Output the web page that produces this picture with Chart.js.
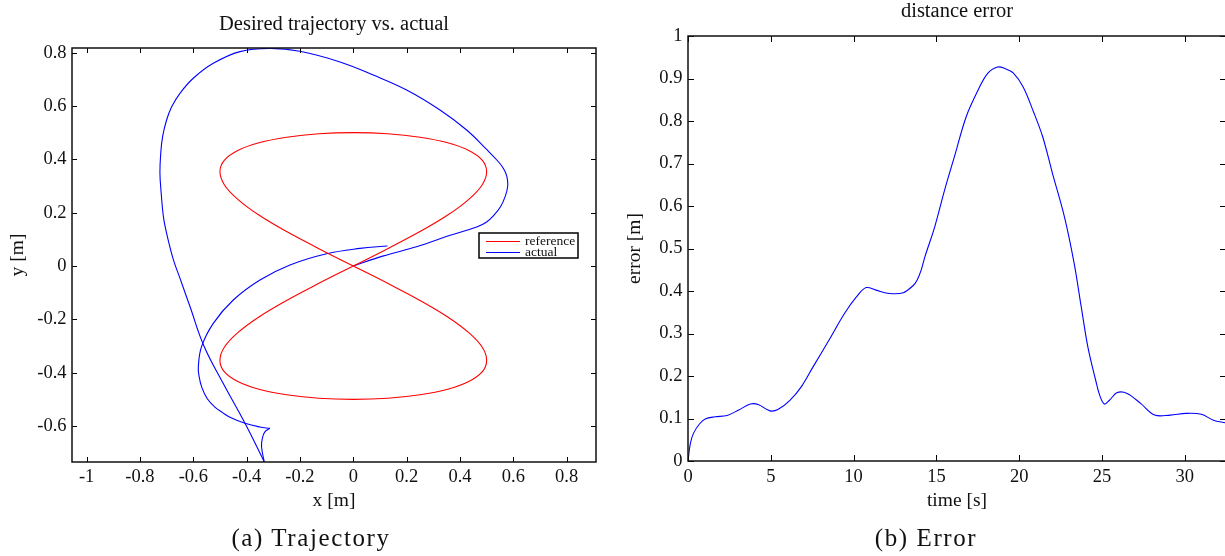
<!DOCTYPE html>
<html><head><meta charset="utf-8">
<script src="https://cdn.jsdelivr.net/npm/chart.js@4.4.1/dist/chart.umd.min.js"></script>
<style>
html,body{margin:0;padding:0;background:#fff;overflow:hidden;width:1225px;height:556px;position:relative}
canvas{position:absolute;top:0}
#c1{left:0}
#c2{left:612px}
.cap{position:absolute;top:525px;font-family:'Liberation Serif','Times New Roman',serif;font-size:25px;line-height:26px;letter-spacing:1.6px;color:#111;white-space:nowrap;transform:translateX(-50%)}
</style></head><body>
<canvas id="c1" width="612" height="556"></canvas>
<canvas id="c2" width="640" height="556"></canvas>
<div class="cap" style="left:311px">(a) Trajectory</div>
<div class="cap" style="left:926px">(b) Error</div>
<script>
// ---------- data: trajectory (x [m], y [m]) ----------
const refX = [0, 0.129, 0.25, 0.354, 0.433, 0.483, 0.5, 0.483, 0.433, 0.354, 0.25, 0.129, 0,
  -0.129, -0.25, -0.354, -0.433, -0.483, -0.5, -0.483, -0.433, -0.354, -0.25, -0.129, 0,
  0.129, 0.25, 0.354, 0.433, 0.483, 0.5, 0.483, 0.433, 0.354, 0.25, 0.129, 0,
  -0.129, -0.25, -0.354, -0.433, -0.483, -0.5, -0.483, -0.433, -0.354, -0.25, -0.129, 0];
const refY = [0, 0.065, 0.129, 0.191, 0.25, 0.304, 0.354, 0.397, 0.433, 0.462, 0.483, 0.496, 0.5,
  0.496, 0.483, 0.462, 0.433, 0.397, 0.354, 0.304, 0.25, 0.191, 0.129, 0.065, 0,
  -0.065, -0.129, -0.191, -0.25, -0.304, -0.354, -0.397, -0.433, -0.462, -0.483, -0.496, -0.5,
  -0.496, -0.483, -0.462, -0.433, -0.397, -0.354, -0.304, -0.25, -0.191, -0.129, -0.065, 0];

// actual path, part 1: start -> big loop -> down to lowest point
const actX1 = [0, 0.11, 0.24, 0.36, 0.4625, 0.5, 0.527, 0.552, 0.57, 0.579, 0.576, 0.565, 0.545, 0.5, 0.425, 0.325, 0.2, 0.075, -0.05, -0.2, -0.312, -0.425, -0.525, -0.6, -0.65, -0.681, -0.7, -0.715, -0.722, -0.725, -0.72, -0.712, -0.7, -0.675, -0.652, -0.612, -0.56, -0.488, -0.406, -0.334];
const actY1 = [0, 0.037, 0.073, 0.114, 0.146, 0.165, 0.19, 0.222, 0.262, 0.3, 0.335, 0.362, 0.39, 0.437, 0.51, 0.585, 0.66, 0.716, 0.765, 0.805, 0.816, 0.804, 0.76, 0.704, 0.6475, 0.597, 0.5475, 0.485, 0.422, 0.348, 0.27, 0.185, 0.123, 0.025, -0.04, -0.153, -0.3, -0.44, -0.59, -0.734];
// part 2: small hook
const actX2 = [-0.334, -0.344, -0.341, -0.331, -0.3125];
const actY2 = [-0.734, -0.678, -0.646, -0.621, -0.609];
// part 3: return to the end point
const actX3 = [-0.3125, -0.35, -0.406, -0.4625, -0.49, -0.52, -0.548, -0.568, -0.578, -0.581, -0.569, -0.525, -0.45, -0.35, -0.2375, -0.1, 0.025, 0.128];
const actY3 = [-0.609, -0.604, -0.59, -0.567, -0.55, -0.528, -0.497, -0.455, -0.415, -0.3775, -0.3025, -0.215, -0.1275, -0.0525, 0.004, 0.046, 0.066, 0.075];

// ---------- data: distance error ----------
const errTime  = [0, 0.14, 0.33, 0.69, 1.04, 1.64, 2.35, 3.06, 3.77, 4.24, 4.95, 5.43, 6.14, 6.85, 7.56, 8.51, 9.45, 10.17, 10.76, 11.35, 12.18, 13.0, 13.6, 13.84, 14.08, 14.31, 14.9, 15.5, 16.09, 16.8, 17.51, 18.1, 18.7, 19.17, 19.64, 20.24, 20.83, 21.42, 22.01, 22.73, 23.32, 23.75, 24.15, 24.62, 24.86, 25.14, 25.45, 25.92, 26.52, 27.35, 28.18, 29.12, 30.07, 31.0, 31.73, 32.45];
const errValue = [0, 0.041, 0.065, 0.087, 0.099, 0.104, 0.107, 0.12, 0.134, 0.133, 0.118, 0.121, 0.142, 0.175, 0.222, 0.284, 0.347, 0.386, 0.408, 0.402, 0.394, 0.396, 0.413, 0.426, 0.449, 0.481, 0.551, 0.638, 0.716, 0.81, 0.872, 0.912, 0.927, 0.923, 0.913, 0.88, 0.825, 0.763, 0.677, 0.575, 0.465, 0.362, 0.268, 0.19, 0.155, 0.134, 0.143, 0.161, 0.159, 0.135, 0.108, 0.108, 0.112, 0.11, 0.096, 0.09];

// ---------- ticks ----------
const trajXTicks  = [-1, -0.8, -0.6, -0.4, -0.2, 0, 0.2, 0.4, 0.6, 0.8];
const trajXLabels = ['-1', '-0.8', '-0.6', '-0.4', '-0.2', '0', '0.2', '0.4', '0.6', '0.8'];
const trajYTicks  = [-0.6, -0.4, -0.2, 0, 0.2, 0.4, 0.6, 0.8];
const trajYLabels = ['-0.6', '-0.4', '-0.2', '0', '0.2', '0.4', '0.6', '0.8'];
const timeTicks   = [0, 5, 10, 15, 20, 25, 30];
const timeLabels  = ['0', '5', '10', '15', '20', '25', '30'];
const errTicks    = [0, 0.1, 0.2, 0.3, 0.4, 0.5, 0.6, 0.7, 0.8, 0.9, 1];
const errLabels   = ['0', '0.1', '0.2', '0.3', '0.4', '0.5', '0.6', '0.7', '0.8', '0.9', '1'];

// ---------- helpers ----------
const SERIF = "'Liberation Serif', 'Times New Roman', serif";
const INK = '#111';
Chart.defaults.font.family = SERIF;
Chart.defaults.color = INK;
const pts = (xs, ys) => xs.map((x, i) => ({x, y: ys[i]}));

const matlabBox = {
  id: 'matlabBox',
  afterDatasetsDraw(chart, args, opts) {
    const {ctx, chartArea: a, scales} = chart;
    const L = opts.tickLen || 5;
    ctx.save();
    ctx.strokeStyle = '#000';
    ctx.lineWidth = 1;
    ctx.beginPath();
    scales.x.ticks.forEach(t => {
      const p = Math.round(scales.x.getPixelForValue(t.value)) + 0.5;
      ctx.moveTo(p, a.bottom); ctx.lineTo(p, a.bottom - L);
      ctx.moveTo(p, a.top); ctx.lineTo(p, a.top + L);
    });
    scales.y.ticks.forEach(t => {
      const p = Math.round(scales.y.getPixelForValue(t.value)) + 0.5;
      ctx.moveTo(a.left, p); ctx.lineTo(a.left + L, p);
      ctx.moveTo(a.right, p); ctx.lineTo(a.right - L, p);
    });
    ctx.stroke();
    ctx.lineWidth = 1.5;
    ctx.strokeStyle = '#111';
    ctx.strokeRect(a.left, a.top, a.right - a.left, a.bottom - a.top);
    ctx.restore();
  }
};

const boxLegend = {
  id: 'boxLegend',
  afterDraw(chart, args, opts) {
    if (!opts || !opts.display) return;
    const {ctx} = chart;
    const items = chart.data.datasets.filter(d => d.inLegend);
    ctx.save();
    ctx.fillStyle = '#fff';
    ctx.fillRect(opts.x, opts.y, opts.w, opts.h);
    ctx.strokeStyle = '#000';
    ctx.lineWidth = 1.5;
    ctx.strokeRect(opts.x, opts.y, opts.w, opts.h);
    ctx.font = opts.fontSize + 'px ' + SERIF;
    ctx.textBaseline = 'middle';
    ctx.textAlign = 'left';
    items.forEach((d, i) => {
      const yy = Math.round(opts.y + opts.rowTop + i * opts.rowGap) + 0.5;
      ctx.strokeStyle = d.borderColor;
      ctx.lineWidth = 1;
      ctx.beginPath();
      ctx.moveTo(opts.x + opts.lineX0, yy); ctx.lineTo(opts.x + opts.lineX1, yy);
      ctx.stroke();
      ctx.fillStyle = INK;
      ctx.fillText(d.label, opts.x + opts.textX, yy);
    });
    ctx.restore();
  }
};

function tickCfg(labels, pad) {
  return {autoSkip: false, maxRotation: 0, minRotation: 0, padding: pad, color: INK,
    font: {size: 18.5, lineHeight: 1}, callback: (v, i) => labels[i]};
}
const lineStyle = (color) => ({showLine: true, borderColor: color, borderWidth: 1.1, pointRadius: 0, tension: 0.4, fill: false});

// ---------- chart (a): trajectory ----------
new Chart(document.getElementById('c1'), {
  type: 'scatter',
  data: {
    datasets: [
      Object.assign({label: 'reference', inLegend: true, data: pts(refX, refY)}, lineStyle('#ff0000')),
      Object.assign({label: 'actual', inLegend: true, data: pts(actX1, actY1)}, lineStyle('#0000ff')),
      Object.assign({label: 'actual', data: pts(actX2, actY2)}, lineStyle('#0000ff')),
      Object.assign({label: 'actual', data: pts(actX3, actY3)}, lineStyle('#0000ff'))
    ]
  },
  options: {
    responsive: false, animation: false, devicePixelRatio: 1,
    layout: {padding: {left: 0, right: 16, top: 0, bottom: 44}},
    scales: {
      x: {type: 'linear', min: -1.0547, max: 0.91,
        afterBuildTicks: s => { s.ticks = trajXTicks.map(v => ({value: v})); },
        afterFit: s => { s.height = 50; },
        grid: {display: false, drawTicks: false}, border: {display: false},
        ticks: tickCfg(trajXLabels, 5.75),
        title: {display: true, text: 'x [m]', color: INK, font: {size: 19.5, lineHeight: 1}, padding: {top: 0, bottom: 1}}},
      y: {type: 'linear', min: -0.735, max: 0.8175,
        afterBuildTicks: s => { s.ticks = trajYTicks.map(v => ({value: v})); },
        afterFit: s => { s.width = 72; },
        grid: {display: false, drawTicks: false}, border: {display: false},
        ticks: tickCfg(trajYLabels, 5.5),
        title: {display: true, text: 'y [m]', color: INK, font: {size: 19.5, lineHeight: 1}, padding: {top: 8.5, bottom: 0}}}
    },
    plugins: {
      legend: {display: false}, tooltip: {enabled: false},
      title: {display: true, text: 'Desired trajectory vs. actual', fullSize: false, color: INK,
        font: {size: 20.5, weight: 'normal', lineHeight: 1}, padding: {top: 14, bottom: 13.5}},
      matlabBox: {tickLen: 5},
      boxLegend: {display: true, x: 479, y: 233, w: 99, h: 25, rowTop: 8, rowGap: 10.5, lineX0: 7, lineX1: 41, textX: 46, fontSize: 13.5}
    }
  },
  plugins: [matlabBox, boxLegend]
});

// ---------- chart (b): distance error ----------
new Chart(document.getElementById('c2'), {
  type: 'line',
  data: {
    datasets: [
      {label: 'distance error', data: pts(errTime, errValue), borderColor: '#0000ff', borderWidth: 1.1, pointRadius: 0, tension: 0.35, fill: false}
    ]
  },
  options: {
    responsive: false, animation: false, devicePixelRatio: 1,
    layout: {padding: {left: 0, right: 26, top: 0, bottom: 45}},
    scales: {
      x: {type: 'linear', min: 0, max: 32.49,
        afterBuildTicks: s => { s.ticks = timeTicks.map(v => ({value: v})); },
        afterFit: s => { s.height = 50; },
        grid: {display: false, drawTicks: false}, border: {display: false},
        ticks: tickCfg(timeLabels, 6.45),
        title: {display: true, text: 'time [s]', color: INK, font: {size: 19.5, lineHeight: 1}, padding: {top: 0, bottom: 0.25}}},
      y: {type: 'linear', min: 0, max: 1,
        afterBuildTicks: s => { s.ticks = errTicks.map(v => ({value: v})); },
        afterFit: s => { s.width = 76; },
        grid: {display: false, drawTicks: false}, border: {display: false},
        ticks: tickCfg(errLabels, 5.6),
        title: {display: true, text: 'error [m]', color: INK, font: {size: 19.5, lineHeight: 1}, padding: {top: 13.25, bottom: 0}}}
    },
    plugins: {
      legend: {display: false}, tooltip: {enabled: false},
      title: {display: true, text: 'distance error', fullSize: false, color: INK,
        font: {size: 20.5, weight: 'normal', lineHeight: 1}, padding: {top: 1, bottom: 14.5}},
      matlabBox: {tickLen: 6},
      boxLegend: {display: false}
    }
  },
  plugins: [matlabBox, boxLegend]
});
</script>
</body></html>
